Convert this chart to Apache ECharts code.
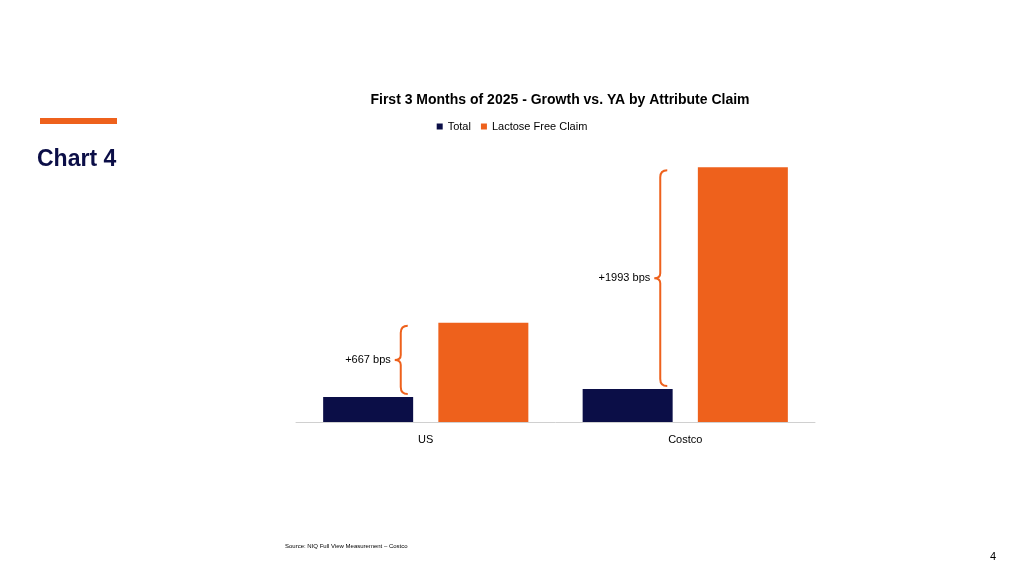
<!DOCTYPE html>
<html>
<head>
<meta charset="utf-8">
<script src="https://cdn.jsdelivr.net/npm/echarts@6/dist/echarts.min.js"></script>
<style>html,body{margin:0;padding:0;background:#fff}#main{width:1024px;height:576px}</style>
</head>
<body>
<div id="main"></div>
<script>
var categories = ['US', 'Costco'];
var totalValues = [2.25, 2.97];
var lactoseValues = [8.92, 22.90];
var bracketLabels = ['+667 bps', '+1993 bps'];

var navy = '#0b0e47';
var orange = '#ee611c';

var myChart = echarts.init(document.getElementById('main'));

var bracketData = [];
for (var i = 0; i < categories.length; i++) {
	bracketData.push([i, totalValues[i], lactoseValues[i], bracketLabels[i]]);
}

function renderBracket(params, api) {
	var c = api.value(0);
	var lo = api.coord([c, api.value(1)]);
	var hi = api.coord([c, api.value(2)]);
	var x = lo[0] - 25;
	var yTop = hi[1] + 3, yBot = lo[1] - 3, yMid = (yTop + yBot) / 2;
	var d = 'M' + (x + 7) + ' ' + yTop + ' Q' + x + ' ' + yTop + ' ' + x + ' ' + (yTop + 7) +
		' L' + x + ' ' + (yMid - 5) + ' Q' + x + ' ' + yMid + ' ' + (x - 6) + ' ' + yMid +
		' Q' + x + ' ' + yMid + ' ' + x + ' ' + (yMid + 5) +
		' L' + x + ' ' + (yBot - 7) + ' Q' + x + ' ' + yBot + ' ' + (x + 7) + ' ' + yBot;
	return {
		type: 'group',
		children: [
			{type: 'path', shape: {pathData: d}, style: {fill: null, stroke: orange, lineWidth: 2}},
			{type: 'text', style: {x: x - 10, y: yMid, text: api.value(3), align: 'right', verticalAlign: 'middle', fill: '#000', font: '11px Arial, "Liberation Sans"'}}
		]
	};
}

var option = {
	graphic: [
		{type: 'rect', shape: {x: 40, y: 118, width: 77, height: 6}, style: {fill: orange}},
		{type: 'text', left: 37, top: 148, style: {text: 'Chart 4', font: 'bold 23px Arial, "Liberation Sans"', fill: navy}},
		{type: 'text', left: 285, top: 543, style: {text: 'Source: NIQ Full View Measurement – Costco', font: '6px Arial, "Liberation Sans"', fill: '#000'}},
		{type: 'text', left: 990, top: 551, style: {text: '4', font: '11px Arial, "Liberation Sans"', fill: '#000'}}
	],
	title: {
		text: 'First 3 Months of 2025 - Growth vs. YA by Attribute Claim',
		left: 555, top: 88, textAlign: 'center',
		textStyle: {fontSize: 14, fontWeight: 'bold', color: '#000', fontFamily: 'Arial, "Liberation Sans"'}
	},
	legend: {
		top: 116, left: 'center',
		itemWidth: 6, itemHeight: 6, itemGap: 10, icon: 'rect',
		textStyle: {fontSize: 11, color: '#000', fontFamily: 'Arial, "Liberation Sans"'},
		data: ['Total', 'Lactose Free Claim']
	},
	grid: {left: 296, right: 209, top: 144, bottom: 154},
	xAxis: {
		type: 'category', data: categories,
		axisTick: {show: false},
		axisLine: {lineStyle: {color: '#d0d0d0'}},
		axisLabel: {color: '#000', fontSize: 11, margin: 12, fontFamily: 'Arial, "Liberation Sans"'}
	},
	yAxis: {type: 'value', min: 0, max: 25, show: false, splitLine: {show: false}},
	series: [
		{name: 'Total', type: 'bar', data: totalValues, barWidth: 90, barGap: '28%', itemStyle: {color: navy}},
		{name: 'Lactose Free Claim', type: 'bar', data: lactoseValues, barWidth: 90, itemStyle: {color: orange}},
		{type: 'custom', data: bracketData, renderItem: renderBracket, z: 5, silent: true}
	]
};

myChart.setOption(option);
</script>
</body>
</html>
